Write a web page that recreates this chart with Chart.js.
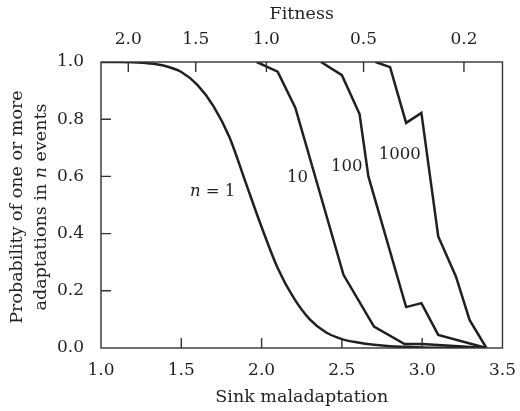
<!DOCTYPE html>
<html>
<head>
<meta charset="utf-8">
<script src="https://cdn.jsdelivr.net/npm/chart.js@4/dist/chart.umd.min.js"></script>
<style>
  body { margin: 0; background: #fff; }
  #wrap { width: 520px; height: 411px; }
</style>
</head>
<body>
<div id="wrap"><canvas id="myChart" width="520" height="411"></canvas></div>
<script>
// values
const n1Maladapt = [1.0, 1.1, 1.2, 1.3, 1.4, 1.5, 1.6, 1.7, 1.8, 1.9, 2.0, 2.1, 2.2, 2.3, 2.4, 2.5, 2.6, 2.7, 2.8, 2.9, 3.0, 3.2, 3.4];
const n1Prob = [1.0, 1.0, 0.999, 0.995, 0.986, 0.965, 0.92, 0.846, 0.737, 0.58, 0.423, 0.28, 0.175, 0.1, 0.055, 0.031, 0.019, 0.011, 0.006, 0.004, 0.002, 0.001, 0];

const n10Maladapt = [1.97, 2.10, 2.21, 2.51, 2.70, 2.89, 3.0, 3.4];
const n10Prob = [1.0, 0.966, 0.84, 0.256, 0.075, 0.014, 0.014, 0];

const n100Maladapt = [2.37, 2.50, 2.61, 2.665, 2.90, 2.995, 3.10, 3.4];
const n100Prob = [1.0, 0.954, 0.818, 0.60, 0.143, 0.157, 0.046, 0];

const n1000Maladapt = [2.71, 2.80, 2.90, 2.995, 3.10, 3.21, 3.295, 3.4];
const n1000Prob = [1.0, 0.982, 0.787, 0.822, 0.39, 0.25, 0.098, 0];

// top axis: fitness labels and where they sit on the maladaptation scale
const fitnessTicks = ['2.0', '1.5', '1.0', '0.5', '0.2'];
const fitnessTickAt = [1.17, 1.59, 2.03, 2.635, 3.26];

const curveNames = ['n = 1', '10', '100', '1000'];
// where each curve label sits, in data units
const labelAtX = [1.695, 2.223, 2.53, 2.861];
const labelAtY = [0.547, 0.595, 0.633, 0.676];

const ink = '#231f20';
const fam = "'DejaVu Serif', serif";

function pts(xs, ys) {
    return xs.map((x, i) => ({ x: x, y: ys[i] }));
}

function lineSet(xs, ys, smooth) {
    return {
        data: pts(xs, ys),
        borderColor: ink,
        borderWidth: 2.5,
        pointRadius: 0,
        fill: false,
        cubicInterpolationMode: smooth ? 'monotone' : 'default',
        tension: 0
    };
}

// frame, inward ticks, y title and curve labels
const decor = {
    id: 'decor',
    afterDatasetsDraw(chart) {
        const ctx = chart.ctx;
        const a = chart.chartArea;
        const sx = chart.scales.x, sy = chart.scales.y, st = chart.scales.x2;
        ctx.save();
        ctx.strokeStyle = '#333';
        ctx.lineWidth = 1.4;
        ctx.strokeRect(a.left, a.top, a.right - a.left, a.bottom - a.top);

        ctx.beginPath();
        sx.ticks.forEach(t => {
            if (t.value <= sx.min || t.value >= sx.max) return;
            const px = sx.getPixelForValue(t.value);
            ctx.moveTo(px, a.bottom);
            ctx.lineTo(px, a.bottom - 10);
        });
        sy.ticks.forEach(t => {
            if (t.value <= sy.min || t.value >= sy.max) return;
            const py = sy.getPixelForValue(t.value);
            ctx.moveTo(a.left, py);
            ctx.lineTo(a.left + 10, py);
        });
        st.ticks.forEach(t => {
            const px = st.getPixelForValue(t.value);
            ctx.moveTo(px, a.top);
            ctx.lineTo(px, a.top + 10);
        });
        ctx.stroke();

        ctx.fillStyle = ink;
        ctx.textBaseline = 'middle';

        // y axis title, two lines, italic n
        const cy = (a.top + a.bottom) / 2 + 2;
        ctx.save();
        ctx.translate(17, cy);
        ctx.rotate(-Math.PI / 2);
        ctx.font = '17.5px ' + fam;
        ctx.textAlign = 'center';
        ctx.fillText('Probability of one or more', 0, 0);
        ctx.restore();

        ctx.save();
        ctx.translate(41, cy);
        ctx.rotate(-Math.PI / 2);
        drawMixed(ctx, ['adaptations in ', 'n', ' events'], 0, 0, 17.5);
        ctx.restore();

        // curve labels
        curveNames.forEach((name, i) => {
            const px = sx.getPixelForValue(labelAtX[i]);
            const py = sy.getPixelForValue(labelAtY[i]);
            if (name.startsWith('n')) {
                drawMixed(ctx, ['', 'n', ' = 1'], px, py, 16.5);
            } else {
                ctx.font = '16.5px ' + fam;
                ctx.textAlign = 'center';
                ctx.fillText(name, px, py);
            }
        });
        ctx.restore();
    }
};

// parts: [normal, italic, normal], centered at x
function drawMixed(ctx, parts, x, y, size) {
    const fonts = [size + 'px ' + fam, 'italic ' + size + 'px ' + fam, size + 'px ' + fam];
    let w = 0;
    const ws = parts.map((p, i) => { ctx.font = fonts[i]; const m = ctx.measureText(p).width; w += m; return m; });
    let cx = x - w / 2;
    ctx.textAlign = 'left';
    parts.forEach((p, i) => {
        ctx.font = fonts[i];
        ctx.fillText(p, cx, y);
        cx += ws[i];
    });
}

new Chart(document.getElementById('myChart'), {
    type: 'line',
    data: {
        datasets: [
            lineSet(n1Maladapt, n1Prob, true),
            lineSet(n10Maladapt, n10Prob, false),
            lineSet(n100Maladapt, n100Prob, false),
            lineSet(n1000Maladapt, n1000Prob, false)
        ]
    },
    options: {
        responsive: false,
        animation: false,
        layout: { padding: { right: 15, left: 0, top: 0, bottom: 0 } },
        plugins: {
            legend: { display: false },
            tooltip: { enabled: false }
        },
        scales: {
            x: {
                type: 'linear',
                position: 'bottom',
                min: 1, max: 3.5,
                grid: { display: false },
                border: { display: false },
                ticks: {
                    stepSize: 0.5,
                    padding: 4,
                    color: ink,
                    font: { family: fam, size: 17 },
                    callback: v => v.toFixed(1)
                },
                title: {
                    display: true,
                    text: 'Sink maladaptation',
                    color: ink,
                    font: { family: fam, size: 17.5 },
                    padding: { top: 0, bottom: 3 }
                },
                afterFit: s => { s.height = 63; }
            },
            x2: {
                type: 'linear',
                position: 'top',
                min: 1, max: 3.5,
                grid: { display: false },
                border: { display: false },
                afterBuildTicks: s => { s.ticks = fitnessTickAt.map(v => ({ value: v })); },
                ticks: {
                    autoSkip: false,
                    padding: 4,
                    color: ink,
                    font: { family: fam, size: 17 },
                    callback: (v, i) => fitnessTicks[i]
                },
                title: {
                    display: true,
                    text: 'Fitness',
                    color: ink,
                    font: { family: fam, size: 17.5 },
                    padding: { top: 4, bottom: 0 }
                },
                afterFit: s => { s.height = 62; }
            },
            y: {
                min: 0, max: 1,
                grid: { display: false },
                border: { display: false },
                ticks: {
                    stepSize: 0.2,
                    padding: 9,
                    color: ink,
                    font: { family: fam, size: 17 },
                    callback: v => v.toFixed(1)
                },
                afterFit: s => { s.width = 101; }
            }
        }
    },
    plugins: [decor]
});
</script>
</body>
</html>
